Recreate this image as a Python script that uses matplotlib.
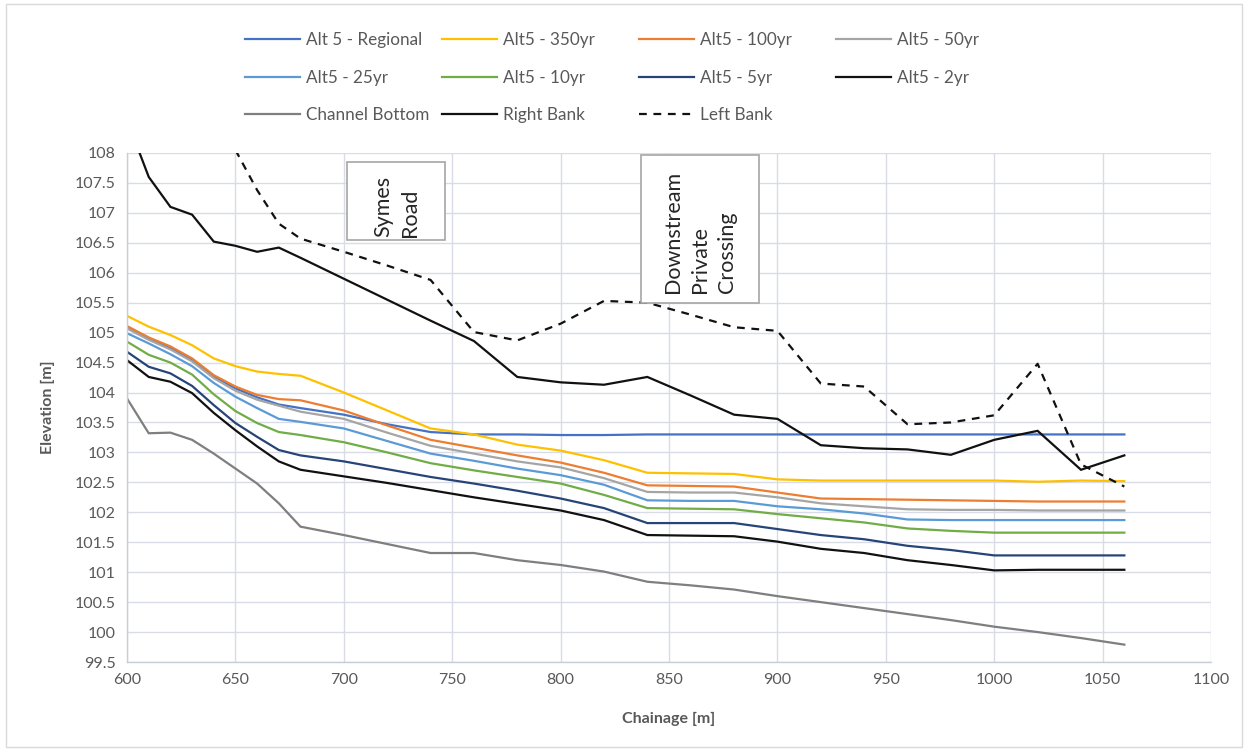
import numpy as np
import matplotlib
matplotlib.use("Agg")
import matplotlib.pyplot as plt
from matplotlib.patches import Rectangle

plt.rcParams["font.family"] = ["Lato", "DejaVu Sans"]

# Chainage stations [m]
chainage = [600, 610, 620, 630, 640, 650, 660, 670, 680, 700, 720, 740, 760, 780,
            800, 820, 840, 860, 880, 900, 920, 940, 960, 980, 1000, 1020, 1040, 1060]

# Water surface profiles [m]
alt5_regional = [105.09, 104.90, 104.74, 104.55, 104.27, 104.07, 103.92, 103.80, 103.74,
                 103.63, 103.47, 103.34, 103.30, 103.30, 103.29, 103.29, 103.30, 103.30,
                 103.30, 103.30, 103.30, 103.30, 103.30, 103.30, 103.30, 103.30, 103.30, 103.30]
alt5_350yr = [105.28, 105.10, 104.96, 104.79, 104.57, 104.44, 104.35, 104.31, 104.28,
              104.00, 103.70, 103.40, 103.30, 103.13, 103.03, 102.87, 102.66, 102.65,
              102.64, 102.55, 102.53, 102.53, 102.53, 102.53, 102.53, 102.51, 102.53, 102.52]
alt5_100yr = [105.11, 104.92, 104.77, 104.57, 104.29, 104.10, 103.96, 103.89, 103.87,
              103.70, 103.45, 103.21, 103.08, 102.95, 102.83, 102.66, 102.45, 102.44,
              102.43, 102.33, 102.23, 102.22, 102.21, 102.20, 102.19, 102.18, 102.18, 102.18]
alt5_50yr = [105.07, 104.88, 104.72, 104.52, 104.24, 104.03, 103.88, 103.78, 103.68,
             103.56, 103.33, 103.11, 102.98, 102.85, 102.75, 102.57, 102.34, 102.33,
             102.33, 102.25, 102.15, 102.10, 102.05, 102.04, 102.04, 102.03, 102.03, 102.03]
alt5_25yr = [104.99, 104.82, 104.64, 104.44, 104.16, 103.93, 103.74, 103.56, 103.51,
             103.40, 103.19, 102.98, 102.86, 102.73, 102.62, 102.46, 102.20, 102.19,
             102.19, 102.10, 102.05, 101.98, 101.88, 101.87, 101.87, 101.87, 101.87, 101.87]
alt5_10yr = [104.85, 104.63, 104.50, 104.30, 103.97, 103.69, 103.49, 103.34, 103.29,
             103.17, 103.00, 102.82, 102.70, 102.59, 102.48, 102.29, 102.07, 102.06,
             102.05, 101.97, 101.90, 101.83, 101.73, 101.69, 101.66, 101.66, 101.66, 101.66]
alt5_5yr = [104.68, 104.43, 104.32, 104.11, 103.79, 103.49, 103.26, 103.04, 102.95,
            102.85, 102.72, 102.59, 102.48, 102.36, 102.23, 102.07, 101.82, 101.82,
            101.82, 101.72, 101.62, 101.55, 101.44, 101.37, 101.28, 101.28, 101.28, 101.28]
alt5_2yr = [104.54, 104.26, 104.18, 103.99, 103.66, 103.37, 103.10, 102.85, 102.71,
            102.60, 102.49, 102.37, 102.25, 102.14, 102.03, 101.87, 101.62, 101.61,
            101.60, 101.51, 101.39, 101.32, 101.20, 101.12, 101.03, 101.04, 101.04, 101.04]

# Channel geometry [m]
channel_bottom = [103.90, 103.32, 103.33, 103.21, 102.98, 102.73, 102.48, 102.15, 101.76,
                  101.62, 101.47, 101.32, 101.32, 101.20, 101.12, 101.01, 100.84, 100.78,
                  100.71, 100.60, 100.50, 100.40, 100.30, 100.20, 100.09, 100.00, 99.90, 99.79]
right_bank = [108.55, 107.60, 107.10, 106.97, 106.52, 106.45, 106.35, 106.42, 106.25,
              105.90, 105.55, 105.20, 104.86, 104.26, 104.17, 104.13, 104.26, 103.95,
              103.63, 103.56, 103.12, 103.07, 103.05, 102.96, 103.21, 103.36, 102.71, 102.95]
left_bank = [np.nan, np.nan, np.nan, np.nan, np.nan, 108.05, 107.38, 106.82, 106.57,
             106.35, 106.12, 105.88, 105.01, 104.87, 105.15, 105.53, 105.50, 105.30,
             105.09, 105.03, 104.15, 104.10, 103.47, 103.50, 103.62, 104.48, 102.80, 102.43]

x_ticks = [600, 650, 700, 750, 800, 850, 900, 950, 1000, 1050, 1100]
y_ticks = [99.5, 100, 100.5, 101, 101.5, 102, 102.5, 103, 103.5, 104, 104.5,
           105, 105.5, 106, 106.5, 107, 107.5, 108]

series = [
    ("Alt 5 - Regional", alt5_regional, "#4472C4", "-"),
    ("Alt5 - 350yr", alt5_350yr, "#FFC000", "-"),
    ("Alt5 - 100yr", alt5_100yr, "#ED7D31", "-"),
    ("Alt5 - 50yr", alt5_50yr, "#A5A5A5", "-"),
    ("Alt5 - 25yr", alt5_25yr, "#5B9BD5", "-"),
    ("Alt5 - 10yr", alt5_10yr, "#70AD47", "-"),
    ("Alt5 - 5yr", alt5_5yr, "#264478", "-"),
    ("Alt5 - 2yr", alt5_2yr, "#111111", "-"),
    ("Channel Bottom", channel_bottom, "#7F7F7F", "-"),
    ("Right Bank", right_bank, "#111111", "-"),
    ("Left Bank", left_bank, "#111111", "--"),
]

fig = plt.figure(figsize=(12.48, 7.51), dpi=100)
ax = fig.add_axes([0.1018, 0.1185, 0.8686, 0.6778])

handles = []
for label, values, color, ls in series:
    (h,) = ax.plot(chainage, values, color=color, lw=1.6, ls=ls, label=label,
                   dashes=(3.5, 3) if ls == "--" else (None, None), solid_joinstyle="miter")
    handles.append(h)

ax.set_xlim(600, 1100)
ax.set_ylim(99.5, 108)
ax.set_xticks(x_ticks)
ax.set_yticks(y_ticks)
ax.set_yticklabels([f"{v:g}" for v in y_ticks])
ax.tick_params(length=0, labelsize=11.5, colors="#595959", pad=8)
ax.grid(True, color="#D9DCE6", lw=1)
ax.set_axisbelow(True)
for side in ("top", "right"):
    ax.spines[side].set_visible(False)
for side in ("left", "bottom"):
    ax.spines[side].set_color("#C9CDD8")
    ax.spines[side].set_linewidth(1)

ax.set_xlabel("Chainage [m]", fontsize=11.5, fontweight="bold", color="#595959", labelpad=18)
ax.set_ylabel("Elevation [m]", fontsize=11.5, fontweight="bold", color="#595959", labelpad=14)

# Structure callouts
ax.add_patch(Rectangle((701.5, 106.55), 45.2, 1.30, facecolor="white",
                       edgecolor="#A6A6A6", lw=1.2, zorder=5))
ax.text(724.3, 106.60, "Symes\nRoad", rotation=90, ha="center", va="bottom",
        multialignment="left", fontsize=15.5, color="#262626", zorder=6, linespacing=1.45)
ax.add_patch(Rectangle((837.0, 105.49), 54.4, 2.48, facecolor="white",
                       edgecolor="#A6A6A6", lw=1.2, zorder=5))
ax.text(864.4, 105.66, "Downstream\nPrivate\nCrossing", rotation=90, ha="center",
        va="bottom", multialignment="left", fontsize=15.5, color="#262626", zorder=6,
        linespacing=1.45)

# Legend: four equal-width columns, one legend per column
legend_columns = [[0, 4, 8], [1, 5, 9], [2, 6, 10], [3, 7]]
column_left_px = [245, 442, 639, 836]
fig_w_px = fig.get_figwidth() * fig.dpi
for idx, left_px in zip(legend_columns, column_left_px):
    fig.legend([handles[i] for i in idx], [series[i][0] for i in idx],
               loc="upper left", bbox_to_anchor=(left_px / fig_w_px, 0.957),
               frameon=False, fontsize=12.3, handlelength=3.2, handletextpad=0.35,
               labelspacing=1.26, borderpad=0, borderaxespad=0, labelcolor="#595959")

fig.patches.append(Rectangle((0.005, 0.005), 0.99, 0.99, transform=fig.transFigure,
                             fill=False, edgecolor="#D9D9D9", lw=1))

fig.savefig("out.png", dpi=100)
